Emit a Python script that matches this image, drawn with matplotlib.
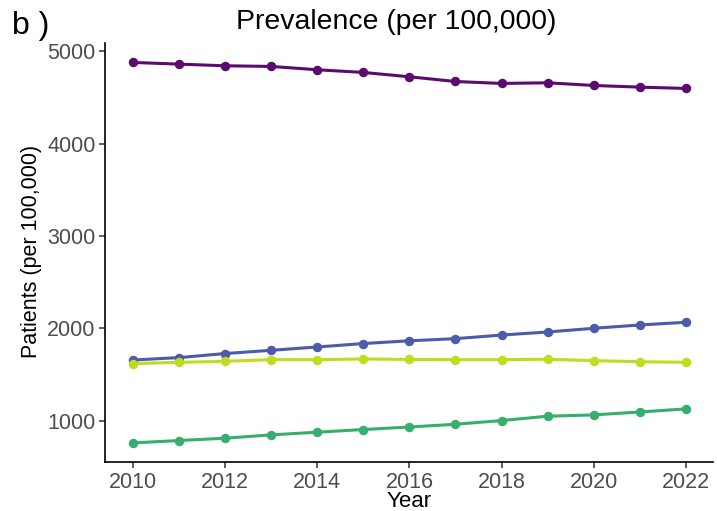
import matplotlib
matplotlib.use("Agg")
import matplotlib.pyplot as plt

plt.rcParams['font.family'] = ['Liberation Sans', 'DejaVu Sans']

years = list(range(2010, 2023))
series_a = [4878, 4860, 4842, 4835, 4799, 4770, 4723, 4672, 4651, 4658, 4629, 4611, 4597]
series_b = [1659, 1685, 1729, 1764, 1800, 1837, 1867, 1890, 1929, 1962, 2002, 2038, 2067]
series_c = [1620, 1634, 1645, 1663, 1663, 1670, 1665, 1663, 1663, 1667, 1652, 1641, 1634]
series_d = [762, 788, 813, 849, 878, 907, 934, 964, 1004, 1051, 1065, 1097, 1130]
colours = ['#5B0A6E', '#4C5BAA', '#BEDD1E', '#35AE6E']

fig = plt.figure(figsize=(7.17, 5.11), dpi=100)
ax = fig.add_axes([0.147, 0.096, 0.848, 0.819])

for vals, col in zip([series_a, series_b, series_c, series_d], colours):
    ax.plot(years, vals, color=col, lw=2.2, marker='o', ms=5.8, zorder=3)

ax.margins(x=0.05, y=0.05)
ax.set_xticks(range(2010, 2023, 2))
ax.set_yticks([1000, 2000, 3000, 4000, 5000])
ax.tick_params(labelsize=15.5, labelcolor='#4D4D4D', color='#333333',
               length=4, width=1.1, pad=3)
for side in ['top', 'right']:
    ax.spines[side].set_visible(False)
for side in ['left', 'bottom']:
    ax.spines[side].set_linewidth(1.2)

ax.set_xlabel('Year', fontsize=16, va='center')
ax.set_ylabel('Patients (per 100,000)', fontsize=15.5, va='center')
ax.xaxis.set_label_coords(0.5, -0.094)
ax.yaxis.set_label_coords(-0.122, 0.502)

fig.text(396 / 717, 1 - 22 / 511, 'Prevalence (per 100,000)', fontsize=20.4,
         ha='center', va='center')
fig.text(12 / 717, 1 - 26 / 511, 'b )', fontsize=23, ha='left', va='center')

fig.savefig('out.png', dpi=100)
